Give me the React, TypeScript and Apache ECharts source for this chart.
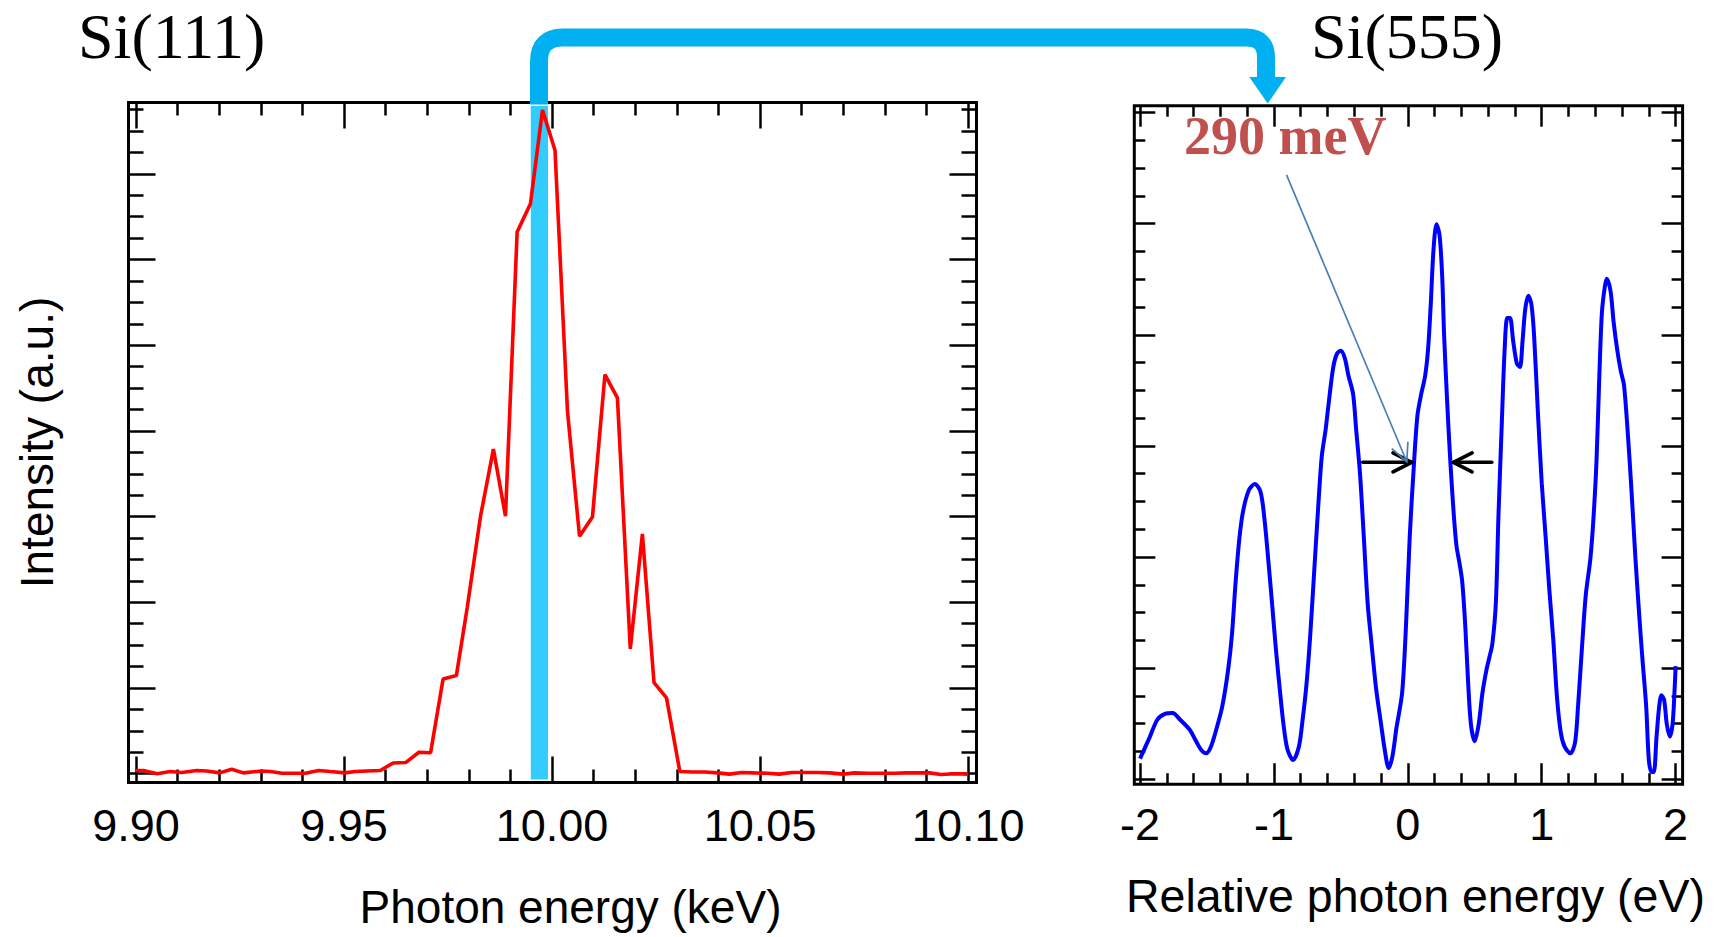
import { useEffect, useRef } from "react";
import * as echarts from "echarts";

// ---------- Data ----------
// Si(111) monochromator spectrum: photon energy (keV) vs intensity (a.u.)
const si111Energy = [
  9.9, 9.9018, 9.9051, 9.9082, 9.911, 9.9146, 9.917, 9.9201, 9.923, 9.9258,
  9.9302, 9.9323, 9.9351, 9.9379, 9.9407, 9.9439, 9.9467, 9.9502, 9.9527, 9.9555,
  9.9587, 9.9618, 9.9648, 9.968, 9.9708, 9.9738, 9.977, 9.9796, 9.9828, 9.9859,
  9.9888, 9.9916, 9.9948, 9.9977, 10.0007, 10.0037, 10.0066, 10.0097, 10.0127, 10.0157,
  10.0188, 10.0217, 10.0245, 10.0275, 10.0307, 10.0338, 10.0367, 10.0398, 10.0426, 10.0456,
  10.0486, 10.0518, 10.0546, 10.0576, 10.0606, 10.0639, 10.0667, 10.0699, 10.0727, 10.0759,
  10.0791, 10.0823, 10.0851, 10.0879, 10.0907, 10.0935, 10.0968, 10.1,
];
const si111Intensity = [
  0.15, 0.15, 0.0, 0.1, 0.06, 0.15, 0.13, 0.04, 0.21, 0.04,
  0.13, 0.1, 0.02, 0.02, 0.02, 0.15, 0.1, 0.04, 0.1, 0.13,
  0.15, 0.5, 0.52, 1.0, 0.98, 4.42, 4.58, 7.75, 12.02, 15.15,
  12.02, 25.29, 26.6, 30.98, 29.1, 16.92, 11.08, 11.98, 18.63, 17.54,
  5.83, 11.19, 4.25, 3.54, 0.1, 0.08, 0.08, 0.04, -0.02, 0.06,
  0.04, 0.02, -0.02, 0.06, 0.06, 0.06, 0.04, -0.02, 0.04, 0.02,
  0.02, 0.02, 0.04, 0.04, 0.04, -0.04, 0.0, -0.02,
];

// Si(555) spectrum: relative photon energy (eV) vs intensity (a.u.)
const si555Energy = [
  -2.0, -1.929, -1.871, -1.814, -1.757, -1.7, -1.629, -1.586, -1.543, -1.506,
  -1.471, -1.429, -1.386, -1.343, -1.314, -1.286, -1.257, -1.229, -1.186, -1.143,
  -1.1, -1.071, -1.043, -1.014, -0.986, -0.957, -0.929, -0.9, -0.857, -0.814,
  -0.786, -0.757, -0.729, -0.7, -0.671, -0.643, -0.614, -0.591, -0.557, -0.529,
  -0.5, -0.471, -0.443, -0.409, -0.386, -0.357, -0.329, -0.3, -0.271, -0.237,
  -0.2, -0.171, -0.143, -0.114, -0.086, -0.043, -0.014, 0.014, 0.043, 0.071,
  0.1, 0.129, 0.151, 0.171, 0.191, 0.214, 0.237, 0.257, 0.271, 0.294,
  0.317, 0.343, 0.363, 0.386, 0.406, 0.429, 0.449, 0.471, 0.5, 0.529,
  0.557, 0.586, 0.609, 0.631, 0.657, 0.677, 0.7, 0.723, 0.743, 0.763,
  0.786, 0.814, 0.837, 0.857, 0.877, 0.9, 0.923, 0.943, 0.971, 1.0,
  1.029, 1.057, 1.086, 1.114, 1.143, 1.171, 1.214, 1.249, 1.271, 1.3,
  1.329, 1.363, 1.386, 1.409, 1.429, 1.449, 1.471, 1.486, 1.514, 1.537,
  1.563, 1.591, 1.614, 1.643, 1.671, 1.7, 1.729, 1.751, 1.78, 1.8,
  1.82, 1.837, 1.857, 1.877, 1.894, 1.914, 1.934, 1.957, 1.977, 1.991, 2.0,
];
const si555Intensity = [
  0.74, 1.5, 2.14, 2.35, 2.38, 2.14, 1.78, 1.41, 1.05, 0.93,
  1.17, 1.82, 2.62, 3.91, 5.19, 7.12, 8.73, 9.69, 10.42, 10.63,
  10.34, 9.37, 7.93, 6.32, 4.71, 3.26, 1.98, 1.09, 0.69, 1.17,
  2.14, 3.42, 5.19, 7.44, 9.69, 11.62, 12.59, 13.55, 14.84, 15.32,
  15.43, 15.16, 14.52, 13.87, 12.59, 10.98, 8.73, 6.32, 4.87, 3.26,
  1.98, 1.01, 0.4, 0.85, 1.82, 3.1, 5.51, 8.73, 11.14, 13.07,
  13.87, 14.52, 15.48, 17.09, 19.02, 19.98, 19.58, 18.05, 15.96, 13.55,
  11.46, 9.53, 8.41, 7.77, 7.12, 5.51, 3.59, 1.98, 1.37, 1.98,
  3.1, 3.91, 4.39, 4.87, 6.32, 9.53, 12.59, 15.48, 16.61, 16.61,
  15.8, 14.97, 14.84, 15.8, 16.93, 17.41, 17.09, 15.96, 13.23, 10.66,
  8.73, 6.8, 5.03, 2.94, 1.66, 1.17, 0.93, 1.33, 2.62, 4.71,
  6.64, 7.93, 9.37, 11.46, 14.36, 16.77, 17.73, 18.02, 17.57, 16.45,
  15.48, 14.68, 14.2, 12.43, 10.34, 7.93, 5.84, 4.39, 2.62, 0.69,
  0.26, 0.26, 1.5, 2.62, 3.02, 2.86, 1.98, 1.54, 1.98, 3.1, 4.07,
];

// Axis ranges and ticks
const leftXRange = [9.8982, 10.102];
const leftYRange = [-0.41, 31.33];
const rightXRange = [-2.043, 2.052];
const rightYRange = [-0.18, 24.25];

const leftMajorX = [9.9, 9.95, 10.0, 10.05, 10.1];
const leftMinorX = [9.91, 9.92, 9.93, 9.94, 9.96, 9.97, 9.98, 9.99, 10.01, 10.02, 10.03, 10.04, 10.06, 10.07, 10.08, 10.09];
const leftMajorY = [0, 4, 8, 12, 16, 20, 24, 28];
const leftMinorY = [1, 2, 3, 5, 6, 7, 9, 10, 11, 13, 14, 15, 17, 18, 19, 21, 22, 23, 25, 26, 27, 29, 30, 31];
const rightMajorX = [-2, -1, 0, 1, 2];
const rightMinorX = [-1.8, -1.6, -1.4, -1.2, -0.8, -0.6, -0.4, -0.2, 0.2, 0.4, 0.6, 0.8, 1.2, 1.4, 1.6, 1.8];
const rightMajorY = [0, 4, 8, 12, 16, 20, 24];
const rightMinorY = [1, 2, 3, 5, 6, 7, 9, 10, 11, 13, 14, 15, 17, 18, 19, 21, 22, 23];

// Annotations (data coordinates)
const selectedBand = [9.9947, 9.9992]; // highlighted energy on Si(111)
const fwhmLevel = 11.41;
const fwhmLeftArrow = [-0.337, 0.029];
const fwhmRightArrow = [0.627, 0.34];
const calloutStart = [-0.906, 21.76];
const calloutEnd = [-0.008, 11.43];

const titles = ["Si(111)", "Si(555)"];
const fwhmText = "290 meV";

// ---------- Styling ----------
const SANS = "'Liberation Sans', Arial, Helvetica, sans-serif";
const SERIF = "'Liberation Serif', 'Times New Roman', serif";
const CONNECTOR = "#00B0F0";

echarts.graphic.registerShape(
  "connector",
  echarts.graphic.extendPath(
    "M539 104.5 L539 61.5 Q539 37.5 563 37.5 L1246 37.5 Q1266 37.5 1266 57.5 L1266 78",
    {}
  )
);

function axis(
  gridIndex: number,
  position: string,
  range: number[],
  ticks: number[],
  length: number,
  extra: any = {}
) {
  return {
    type: "value",
    gridIndex,
    position,
    min: range[0],
    max: range[1],
    axisLine: { show: false, onZero: false },
    splitLine: { show: false },
    axisTick: {
      show: true,
      inside: true,
      length,
      customValues: ticks,
      lineStyle: { color: "#000", width: 2.5 },
    },
    axisLabel: { show: false },
    ...extra,
  };
}

const labelStyle = {
  fontFamily: SANS,
  fontSize: 45,
  color: "#000",
};

function chevron(tip: number[], from: number[], len: number, deg: number) {
  const ang = Math.atan2(from[1] - tip[1], from[0] - tip[0]);
  const a = (deg * Math.PI) / 180;
  return [
    [tip[0] + len * Math.cos(ang + a), tip[1] + len * Math.sin(ang + a)],
    [tip[0], tip[1]],
    [tip[0] + len * Math.cos(ang - a), tip[1] + len * Math.sin(ang - a)],
  ];
}

export default function App() {
  const ref = useRef<HTMLDivElement>(null);

  useEffect(() => {
    document.body.style.margin = "0";
    const chart = echarts.init(ref.current!, null, { renderer: "svg" });

    const option: any = {
      animation: false,
      backgroundColor: "#fff",
      title: [
        {
          text: titles[0],
          left: 78,
          top: 4,
          padding: 0,
          textStyle: { fontFamily: SERIF, fontSize: 64, fontWeight: "normal", color: "#000" },
        },
        {
          text: titles[1],
          left: 1311,
          top: 4,
          padding: 0,
          textStyle: { fontFamily: SERIF, fontSize: 64, fontWeight: "normal", color: "#000" },
        },
        {
          text: fwhmText,
          left: 1184,
          top: 109,
          padding: 0,
          textStyle: { fontFamily: SERIF, fontSize: 54, fontWeight: "bold", color: "#C0504D" },
        },
      ],
      grid: [
        { left: 128.5, top: 102.5, width: 848, height: 680, show: true, borderColor: "#000", borderWidth: 3, backgroundColor: "transparent" },
        { left: 1134.3, top: 105.7, width: 548.3, height: 678.5, show: true, borderColor: "#000", borderWidth: 3, backgroundColor: "transparent" },
      ],
      xAxis: [
        axis(0, "bottom", leftXRange, leftMajorX, 26, {
          axisLabel: {
            show: true,
            customValues: leftMajorX,
            formatter: (v: number) => v.toFixed(2),
            margin: 20,
            ...labelStyle,
          },
          name: "Photon energy (keV)",
          nameLocation: "middle",
          nameGap: 101,
          nameTextStyle: { fontFamily: SANS, fontSize: 46, color: "#000", padding: [0, 0, 0, 36] },
        }),
        axis(0, "bottom", leftXRange, leftMinorX, 13),
        axis(0, "top", leftXRange, leftMajorX, 26),
        axis(0, "top", leftXRange, leftMinorX, 13),
        axis(1, "bottom", rightXRange, rightMajorX, 21, {
          axisLabel: {
            show: true,
            customValues: rightMajorX,
            formatter: (v: number) => String(v),
            margin: 18,
            ...labelStyle,
          },
          name: "Relative photon energy (eV)",
          nameLocation: "middle",
          nameGap: 88,
          nameTextStyle: { fontFamily: SANS, fontSize: 46.5, color: "#000", padding: [0, 0, 0, 14] },
        }),
        axis(1, "bottom", rightXRange, rightMinorX, 11),
        axis(1, "top", rightXRange, rightMajorX, 21),
        axis(1, "top", rightXRange, rightMinorX, 11),
      ],
      yAxis: [
        axis(0, "left", leftYRange, leftMajorY, 27, {
          name: "Intensity (a.u.)",
          nameLocation: "middle",
          nameRotate: 90,
          nameGap: 69,
          nameTextStyle: { fontFamily: SANS, fontSize: 46, color: "#000" },
        }),
        axis(0, "left", leftYRange, leftMinorY, 15),
        axis(0, "right", leftYRange, leftMajorY, 27),
        axis(0, "right", leftYRange, leftMinorY, 15),
        axis(1, "left", rightYRange, rightMajorY, 21),
        axis(1, "left", rightYRange, rightMinorY, 11),
        axis(1, "right", rightYRange, rightMajorY, 21),
        axis(1, "right", rightYRange, rightMinorY, 11),
      ],
      series: [
        {
          name: "Si(111)",
          type: "line",
          xAxisIndex: 0,
          yAxisIndex: 0,
          data: si111Energy.map((e, i) => [e, si111Intensity[i]]),
          showSymbol: false,
          lineStyle: { color: "#FF0000", width: 3.6 },
          itemStyle: { color: "#FF0000" },
          markArea: {
            silent: true,
            itemStyle: { color: "#33CCFF", borderColor: "#fff", borderWidth: 1.5 },
            data: [[{ xAxis: selectedBand[0], yAxis: -0.3 }, { xAxis: selectedBand[1], yAxis: 31.2 }]],
          },
        },
        {
          name: "Si(555)",
          type: "line",
          xAxisIndex: 4,
          yAxisIndex: 4,
          data: si555Energy.map((e, i) => [e, si555Intensity[i]]),
          showSymbol: false,
          smooth: 0.3,
          lineStyle: { color: "#0000FF", width: 4 },
          itemStyle: { color: "#0000FF" },
        },
      ],
    };

    chart.setOption(option);

    const px = (x: number, y: number) => chart.convertToPixel({ seriesIndex: 1 }, [x, y]) as number[];
    const lA = px(fwhmLeftArrow[0], fwhmLevel);
    const lB = px(fwhmLeftArrow[1], fwhmLevel);
    const rA = px(fwhmRightArrow[0], fwhmLevel);
    const rB = px(fwhmRightArrow[1], fwhmLevel);
    const cA = px(calloutStart[0], calloutStart[1]);
    const cB = px(calloutEnd[0], calloutEnd[1]);

    const blackLine = { stroke: "#000", lineWidth: 3.6, fill: "none", lineCap: "round", lineJoin: "round" };
    const calloutLine = { stroke: "#4A7EBB", lineWidth: 1.7, fill: "none" };

    chart.setOption({
      graphic: [
        { type: "connector", x: 0, y: 0, z: 10, style: { fill: "none", stroke: CONNECTOR, lineWidth: 18 } },
        { type: "polygon", z: 10, shape: { points: [[1249.3, 77], [1286, 77], [1267.7, 103.5]] }, style: { fill: CONNECTOR } },
        { type: "polyline", z: 10, shape: { points: [lA, lB] }, style: blackLine },
        { type: "polyline", z: 10, shape: { points: chevron(lB, lA, 21, 27) }, style: blackLine },
        { type: "polyline", z: 10, shape: { points: [rA, rB] }, style: blackLine },
        { type: "polyline", z: 10, shape: { points: chevron(rB, rA, 21, 27) }, style: blackLine },
        { type: "polyline", z: 10, shape: { points: [cA, cB] }, style: calloutLine },
        { type: "polyline", z: 10, shape: { points: chevron(cB, cA, 20, 26) }, style: calloutLine },
      ],
    });

    return () => chart.dispose();
  }, []);

  return <div ref={ref} style={{ width: 1718, height: 937 }} />;
}
